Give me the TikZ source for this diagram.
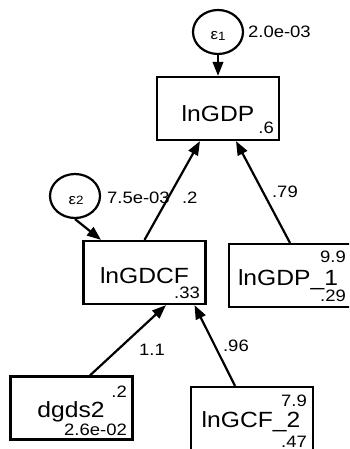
\documentclass[tikz,border=0pt]{standalone}
\usepackage{fontspec}
\setmainfont{Liberation Sans}[FakeStretch=1.12]
\usetikzlibrary{arrows.meta,shapes.geometric}

\begin{document}
\begin{tikzpicture}[x=1pt,y=-1pt,>={Triangle[length=14pt,width=10.5pt]},
        line width=2.2pt,
        var node/.style={draw,minimum width=122pt,minimum height=63pt,inner sep=0pt},
        err node/.style={draw,ellipse,minimum width=50pt,minimum height=44pt,inner sep=0pt},
        var name/.style={anchor=base,inner sep=0pt,font=\fontsize{22}{24}\selectfont},
        err name/.style={anchor=base,inner sep=0pt,font=\fontsize{15}{17}\selectfont},
        est/.style={inner sep=0pt,font=\fontsize{16.5}{18}\selectfont}]
        \path[use as bounding box,fill=white] (0,0) rectangle (349,449);
        \clip (0,0) rectangle (349,449);
        % variables
        \node[var node] (gdp) at (218,108.5) {};
        \node[var node] (gdcf) at (144.5,272.5) {};
        \node[var node] (gdp1) at (290,275.5) {};
        \node[var node] (dgds) at (71.5,408) {};
        \node[var node] (gcf2) at (252,418.5) {};
        \node[var name] (gdpname) at (218,122) {lnGDP};
        \node[var name] (gdcfname) at (144.5,283) {lnGDCF};
        \node[var name] (gdp1name) at (288,285) {lnGDP\_1};
        \node[var name] (dgdsname) at (71,417) {dgds2};
        \node[var name] (gcf2name) at (251,427) {lnGCF\_2};
        % errors
        \node[err node] (e1) at (218,32) {};
        \node[err node] (e2) at (75,196) {};
        \node[err name] (e1name) at (218,40) {ε\raisebox{-.5pt}{\fontsize{12}{13}\selectfont 1}};
        \node[err name] (e2name) at (76,204) {ε\raisebox{-.5pt}{\fontsize{12}{13}\selectfont 2}};
        % estimates
        \node[est,anchor=base west] (e1var) at (247,38) {2.0e-03};
        \node[est,anchor=base west] (e2var) at (106,203) {7.5e-03};
        \node[est,anchor=base east] (gdpr) at (275,134) {.6};
        \node[est,anchor=base east] (gdcfr) at (201,298) {.33};
        \node[est,anchor=base east] (gdp1m) at (347,262) {9.9};
        \node[est,anchor=base east] (gdp1v) at (347,301) {.29};
        \node[est,anchor=base east] (dgdsm) at (128,397) {.2};
        \node[est,anchor=base east] (dgdsv) at (128,435) {2.6e-02};
        \node[est,anchor=base east] (gcf2m) at (308,406) {7.9};
        \node[est,anchor=base east] (gcf2v) at (308,447) {.47};
        \node[est,anchor=base west] (b1) at (181,203) {.2};
        \node[est,anchor=base west] (b2) at (271,197) {.79};
        \node[est,anchor=base west] (b3) at (138,355) {1.1};
        \node[est,anchor=base west] (b4) at (222,351) {.96};
        \path[->]
        (e1) edge (gdp)
        (e2.south) edge ([xshift=-43.5pt]gdcf.north)
        (gdcf.north) edge ([xshift=-18pt]gdp.south)
        (gdp1.north) edge ([xshift=18pt]gdp.south)
        ([xshift=18.5pt]dgds.north) edge ([xshift=21.5pt]gdcf.south)
        ([xshift=-17pt]gcf2.north) edge ([xshift=50pt]gdcf.south)
        ;
\end{tikzpicture}
\end{document}
